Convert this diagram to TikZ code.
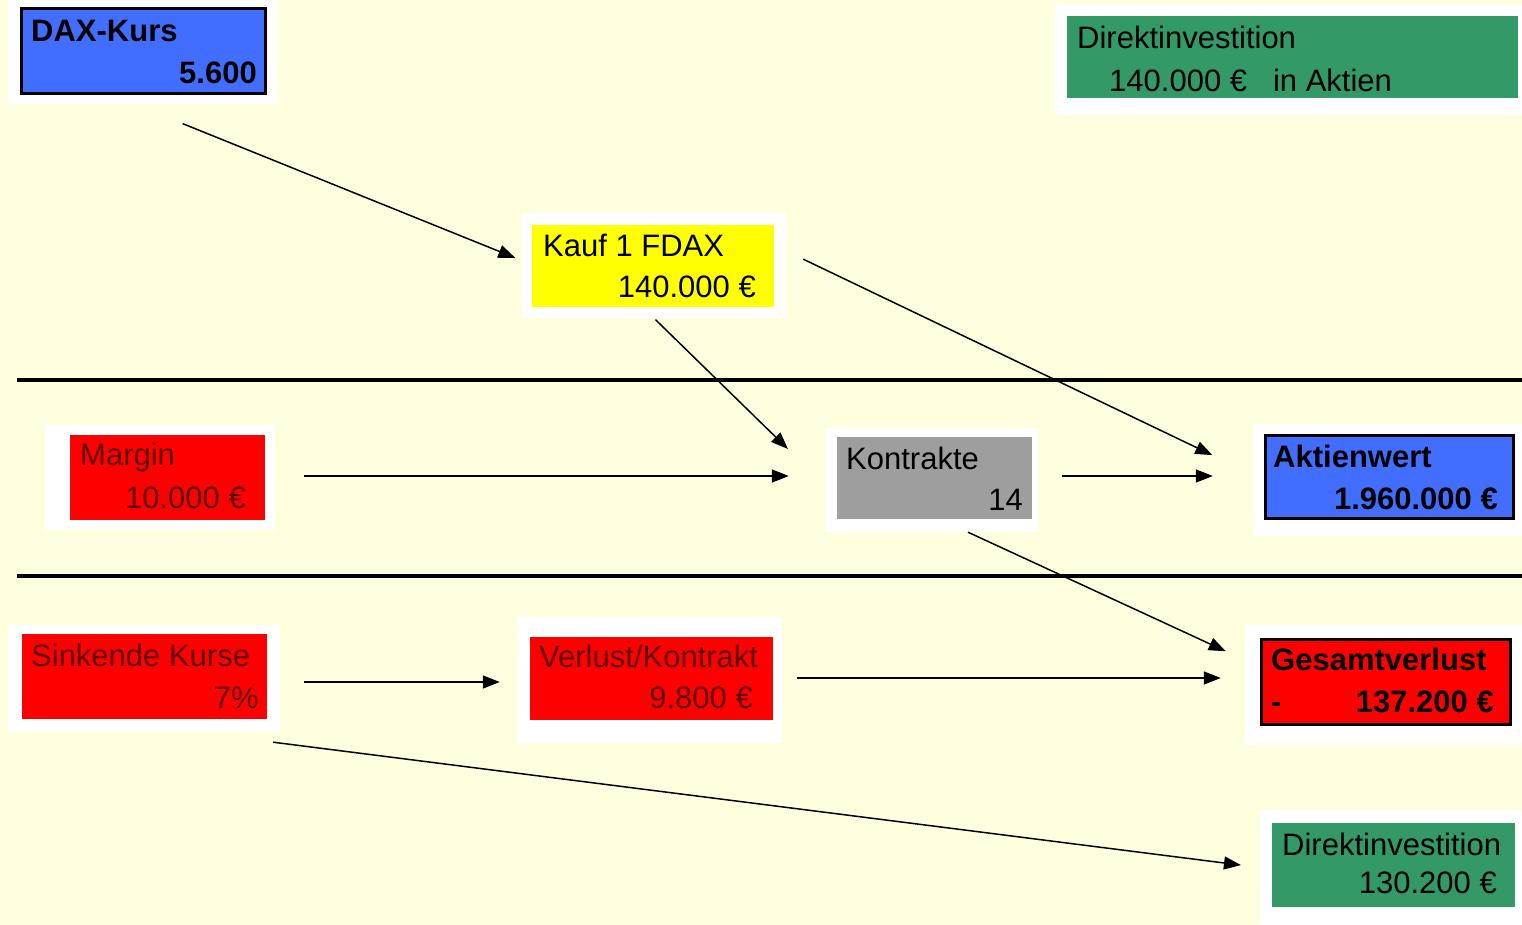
\documentclass[tikz,border=0pt]{standalone}
\usepackage{fontspec}
\setmainfont{Liberation Sans}
\usetikzlibrary{arrows.meta}
\definecolor{paper}{RGB}{255,255,224}
\definecolor{daxblue}{RGB}{66,110,255}
\definecolor{invgreen}{RGB}{51,153,102}
\definecolor{lossred}{RGB}{255,0,0}
\definecolor{losstext}{RGB}{95,0,0}
\definecolor{fdaxyellow}{RGB}{255,255,0}
\definecolor{kgrey}{RGB}{158,158,158}

\begin{document}
\begin{tikzpicture}[x=1pt,y=-1pt]%
  \tikzstyle{halo}=[rectangle,fill=white,inner sep=0]
  \tikzstyle{box}=[rectangle,inner sep=0]
  \tikzstyle{framed}=[box,draw=black,line width=3pt]
  \tikzstyle{txt}=[inner sep=0,font=\fontsize{31}{37}\selectfont]
  \tikzstyle{redtxt}=[txt,text=losstext]
  \tikzstyle{pfeil}=[-{Triangle[length=17pt,width=13pt]},line width=1.5pt]
  \tikzstyle{rule}=[line width=4pt]
  \fill[paper] (0,0) rectangle (1522,925);
  \useasboundingbox (0,0) rectangle (1522,925);
  % upper row
  \node[halo,minimum width=269pt,minimum height=104pt] (dax) at (142.5,52) {};
  \node[framed,fill=daxblue,minimum width=244pt,minimum height=85pt] (daxbox) at (143.5,51) {};
  \node[txt,anchor=base west] (daxA) at (31,42) {\bfseries DAX-Kurs};
  \node[txt,anchor=base east] (daxB) at (257,84) {\bfseries 5.600};
  \node[halo,minimum width=467pt,minimum height=110pt] (direkt) at (1288.5,60) {};
  \node[box,fill=invgreen,minimum width=451pt,minimum height=82pt] (direktbox) at (1292.5,57) {};
  \node[txt,anchor=base west] (direktA) at (1077,49) {Direktinvestition};
  \node[txt,anchor=base west] (direktB) at (1109,92) {140.000~€\hspace{26pt}in Aktien};
  \node[halo,minimum width=264pt,minimum height=105pt] (kauf) at (654,265.5) {};
  \node[box,fill=fdaxyellow,minimum width=242pt,minimum height=82pt] (kaufbox) at (653,266) {};
  \node[txt,anchor=base west] (kaufA) at (543,257) {Kauf 1 FDAX};
  \node[txt,anchor=base east] (kaufB) at (756,297) {140.000 €};
  % middle row
  \node[halo,minimum width=230pt,minimum height=105pt] (margin) at (160,477.5) {};
  \node[box,fill=lossred,minimum width=195pt,minimum height=85pt] (marginbox) at (167.5,477.5) {};
  \node[redtxt,anchor=base west] (marginA) at (80,465) {Margin};
  \node[redtxt,anchor=base east] (marginB) at (246,508) {10.000 €};
  \node[halo,minimum width=212pt,minimum height=104pt] (kontrakte) at (932,480) {};
  \node[box,fill=kgrey,minimum width=195pt,minimum height=82pt] (kontraktebox) at (934.5,478) {};
  \node[txt,anchor=base west] (kontrakteA) at (846,469) {Kontrakte};
  \node[txt,anchor=base east] (kontrakteB) at (1023,510) {14};
  \node[halo,minimum width=268pt,minimum height=112pt] (aktien) at (1388,480) {};
  \node[framed,fill=daxblue,minimum width=248pt,minimum height=83pt] (aktienbox) at (1389.5,477) {};
  \node[txt,anchor=base west] (aktienA) at (1273,467) {\bfseries Aktienwert};
  \node[txt,anchor=base east] (aktienB) at (1498,509) {\bfseries 1.960.000 €};
  % lower row
  \node[halo,minimum width=272pt,minimum height=107pt] (sinkende) at (144,678.5) {};
  \node[box,fill=lossred,minimum width=245pt,minimum height=85pt] (sinkendebox) at (144.5,676.5) {};
  \node[redtxt,anchor=base west] (sinkendeA) at (31,666) {Sinkende Kurse};
  \node[redtxt,anchor=base east] (sinkendeB) at (259,708) {7\%};
  \node[halo,minimum width=264pt,minimum height=126pt] (verlust) at (650,680) {};
  \node[box,fill=lossred,minimum width=243pt,minimum height=83pt] (verlustbox) at (651.5,678.5) {};
  \node[redtxt,anchor=base west] (verlustA) at (539,667) {Verlust/Kontrakt};
  \node[redtxt,anchor=base east] (verlustB) at (753,708) {9.800 €};
  \node[halo,minimum width=277pt,minimum height=120pt] (gesamt) at (1383.5,685) {};
  \node[framed,fill=lossred,minimum width=249pt,minimum height=85pt] (gesamtbox) at (1386,682) {};
  \node[txt,anchor=base west] (gesamtA) at (1271,670) {\bfseries Gesamtverlust};
  \node[txt,anchor=base west] (gesamtM) at (1271,712) {\bfseries -};
  \node[txt,anchor=base east] (gesamtB) at (1494,712) {\bfseries 137.200 €};
  \node[halo,minimum width=262pt,minimum height=115pt] (direktzwei) at (1391,867.5) {};
  \node[box,fill=invgreen,minimum width=243pt,minimum height=84pt] (direktzweibox) at (1393.5,865) {};
  \node[txt,anchor=base west] (direktzweiA) at (1282,855) {Direktinvestition};
  \node[txt,anchor=base east] (direktzweiB) at (1497,893) {130.200 €};
  % Trennlinien
  \draw[rule] (17,380) -- (1522,380);
  \draw[rule] (17,576) -- (1522,576);
  % Pfeile
  \draw[pfeil,shorten <=52pt,shorten >=7pt] ([xshift=-8pt]dax.south) -- ([yshift=5pt]kauf.west);
  \draw[pfeil,shorten <=2pt,shorten >=53pt] (kauf.south) -- ([yshift=-6pt]kontrakte.west);
  \draw[pfeil,shorten <=19pt,shorten >=46pt] ([yshift=14.5pt]kauf.east) -- ([yshift=5pt]aktien.west);
  \draw[pfeil,shorten <=29pt,shorten >=37pt] ([yshift=1.5pt]margin.east) -- ([yshift=1.5pt]margin.east -| kontrakte.west);
  \draw[pfeil,shorten <=24pt,shorten >=41pt] ([yshift=4pt]kontrakte.east) -- ([yshift=4pt]kontrakte.east -| aktien.west);
  \draw[pfeil,shorten >=21pt] ([xshift=36pt]kontrakte.south) -- ([yshift=25pt]gesamt.west);
  \draw[pfeil,shorten <=24pt,shorten >=18pt] ([yshift=-3.5pt]sinkende.east) -- ([yshift=-3.5pt]sinkende.east -| verlust.west);
  \draw[pfeil,shorten <=15pt,shorten >=24pt] ([yshift=2pt]verlust.east) -- ([yshift=2pt]verlust.east -| gesamt.west);
  \draw[pfeil,shorten >=19pt] ([xshift=-7pt,yshift=-10pt]sinkende.south east) -- (direktzwei.west);
\end{tikzpicture}
\end{document}
